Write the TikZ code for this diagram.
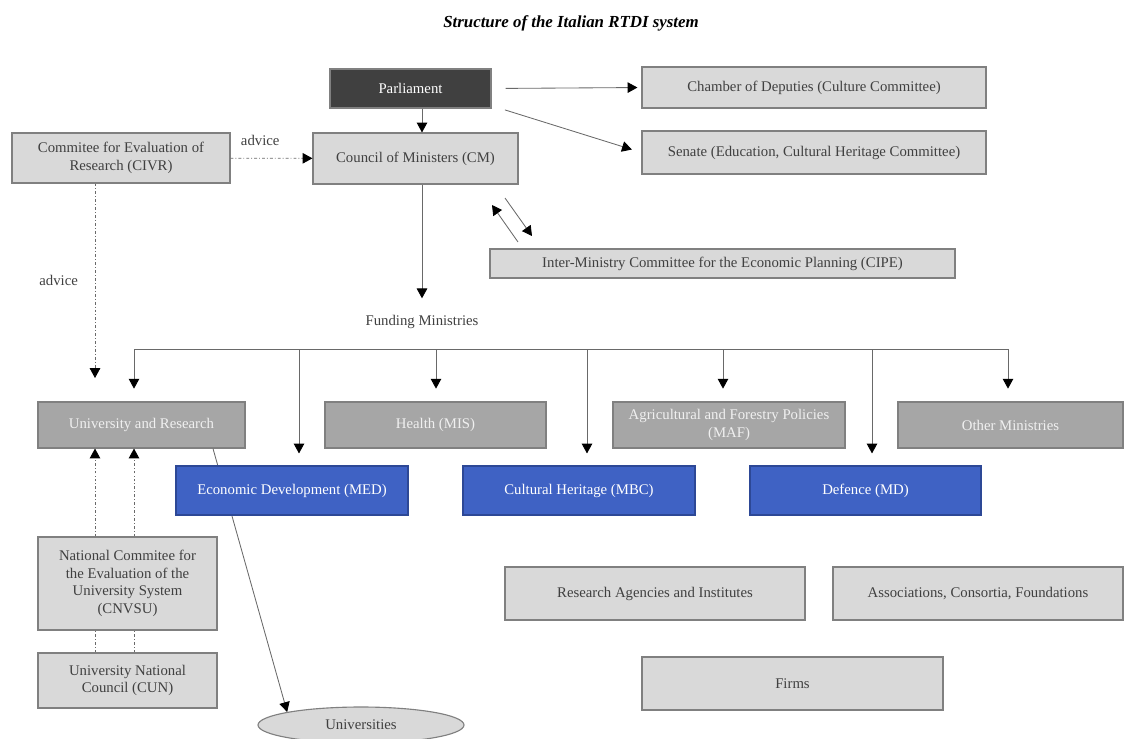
\documentclass[tikz,border=0pt]{standalone}
\usepackage{fontspec}
\setmainfont{Liberation Serif}
\usetikzlibrary{arrows.meta,shapes.geometric}
\definecolor{boxgray}{RGB}{217,217,217}
\definecolor{midgray}{RGB}{166,166,166}
\definecolor{darkfill}{RGB}{64,64,64}
\definecolor{edgegray}{RGB}{128,128,128}
\definecolor{txtgray}{RGB}{64,64,64}
\definecolor{linegray}{RGB}{105,105,105}
\definecolor{minblue}{RGB}{63,98,196}
\definecolor{minedge}{RGB}{45,72,150}

\begin{document}
\begin{tikzpicture}[x=0.025cm,y=-0.025cm,
    font=\fontsize{10.5}{12.5}\selectfont,
    bsize/.style 2 args={minimum width=#1*0.025cm, minimum height=#2*0.025cm},
    lightbox/.style={draw=edgegray, fill=boxgray, text=txtgray, line width=0.8pt, inner sep=2pt, align=center},
    darkbox/.style={draw=edgegray, fill=darkfill, text=white, line width=0.8pt, inner sep=2pt},
    minbox/.style={draw=edgegray, fill=midgray, text=white!94!black, line width=0.8pt, inner sep=2pt, align=center},
    bluebox/.style={draw=minedge, fill=minblue, text=white, line width=0.8pt, inner sep=2pt},
    arr/.style={draw=linegray, line width=0.6pt, -{Triangle[length=7pt,width=7.5pt,color=black]}},
    advice/.style={arr, dash pattern=on 2pt off 1.5pt on 0.6pt off 1.5pt},
    dotline/.style={draw=linegray, line width=0.6pt, dash pattern=on 2pt off 1.5pt on 0.6pt off 1.5pt},
    link/.style={draw=linegray, line width=0.6pt}]
    \useasboundingbox (0,0) rectangle (1125,738);

    % Title
    \node[font=\bfseries\itshape\fontsize{12}{14}\selectfont] (title) at (571,23) {Structure of the Italian RTDI system};

    % Top level
    \node[darkbox, bsize={161}{39}] (parl) at (410.5,88.5) {Parliament};
    \node[lightbox, bsize={344}{41}] (chamber) at (814,87.5) {Chamber of Deputies (Culture Committee)};
    \node[lightbox, bsize={344}{43}] (senate) at (814,152.5) {Senate (Education, Cultural Heritage Committee)};
    \node[lightbox, bsize={218}{50}] (civr) at (121,158) {Commitee for Evaluation of\\Research (CIVR)};
    \node[lightbox, bsize={205}{51}] (cm) at (415.5,158.5) {Council of Ministers (CM)};
    \node[lightbox, bsize={465}{29}] (cipe) at (722.5,263.5) {Inter-Ministry Committee for the Economic Planning (CIPE)};
    \node[text=txtgray] (fund) at (422,322) {Funding Ministries};

    \draw[arr] (parl.south -| fund) -- (cm.north -| fund);
    \draw[arr, shorten <=0.35cm, shorten >=0.1cm] (parl.east) -- (chamber.west);
    \draw[arr, shorten <=0.35cm, shorten >=0.25cm] (parl.-12) -- (senate.west);
    \draw[advice] (civr) -- (cm) node[midway, above=5pt, text=txtgray, xshift=-8pt] {advice};
    \draw[arr, shorten >=0.3cm] (cm.south -| fund) -- (fund.north);

    % CM <-> CIPE
    \coordinate (a1) at (518,242);
    \coordinate (a2) at (492,205);
    \coordinate (b1) at (505,198);
    \coordinate (b2) at (532,236);
    \draw[arr] (a1) -- (a2);
    \draw[arr] (b1) -- (b2);

    % Ministries
    \node[minbox, bsize={207}{46}] (ur) at (141.5,425) {University and Research};
    \node[minbox, bsize={221}{46}] (health) at (435.5,425) {Health (MIS)};
    \node[minbox, bsize={232}{46}] (maf) at (729,425) {Agricultural and Forestry Policies\\(MAF)};
    \node[minbox, bsize={225}{46}] (other) at (1010.5,425) {Other Ministries};

    \node[lightbox, bsize={179}{93}] (cnvsu) at (127.5,583.5) {National Commitee for\\the Evaluation of the\\University System\\(CNVSU)};
    \node[lightbox, bsize={179}{55}] (cun) at (127.5,680.5) {University National\\Council (CUN)};
    \node[lightbox, ellipse, inner sep=0pt, bsize={206}{36}] (univ) at (361,725) {Universities};

    \coordinate (u0) at (213,447);
    \draw[arr] (ur.south -| u0) -- (univ.170);

    \node[bluebox, bsize={232}{49}] (med) at (292,490.5) {Economic Development (MED)};
    \node[bluebox, bsize={232}{49}] (mbc) at (579,490.5) {Cultural Heritage (MBC)};
    \node[bluebox, bsize={231}{49}] (md) at (865.5,490.5) {Defence (MD)};

    % Funding lines
    \coordinate (d1) at (134,349);
    \coordinate (d2) at (299,349);
    \coordinate (d3) at (436,349);
    \coordinate (d4) at (587,349);
    \coordinate (d5) at (723,349);
    \coordinate (d6) at (872,349);
    \coordinate (d7) at (1008,349);
    \draw[link] (d1) -- (d7);
    \draw[arr, shorten >=0.32cm] (d1) -- (d1 |- ur.north);
    \draw[arr, shorten >=0.3cm] (d2) -- (d2 |- med.north);
    \draw[arr, shorten >=0.32cm] (d3) -- (d3 |- health.north);
    \draw[arr, shorten >=0.3cm] (d4) -- (d4 |- mbc.north);
    \draw[arr, shorten >=0.32cm] (d5) -- (d5 |- maf.north);
    \draw[arr, shorten >=0.3cm] (d6) -- (d6 |- md.north);
    \draw[arr, shorten >=0.32cm] (d7) -- (d7 |- other.north);

    % Advice to University and Research
    \coordinate (d0) at (95,378);
    \draw[advice] (civr.south -| d0) -- (d0) node[midway, left=0.3cm, text=txtgray] {advice};
    \draw[advice] (cnvsu.north -| d0) -- (ur.south -| d0);
    \draw[advice] (cnvsu.north -| d1) -- (ur.south -| d1);
    \draw[dotline] (cun.north -| d0) -- (cnvsu.south -| d0);
    \draw[dotline] (cun.north -| d1) -- (cnvsu.south -| d1);

    % Other actors
    \node[lightbox, bsize={300}{53}] (resag) at (655,593.5) {Research Agencies and Institutes};
    \node[lightbox, bsize={290}{53}] (assoc) at (978,593.5) {Associations, Consortia, Foundations};
    \node[lightbox, bsize={301}{53}] (firms) at (792.5,683.5) {Firms};
\end{tikzpicture}
\end{document}
